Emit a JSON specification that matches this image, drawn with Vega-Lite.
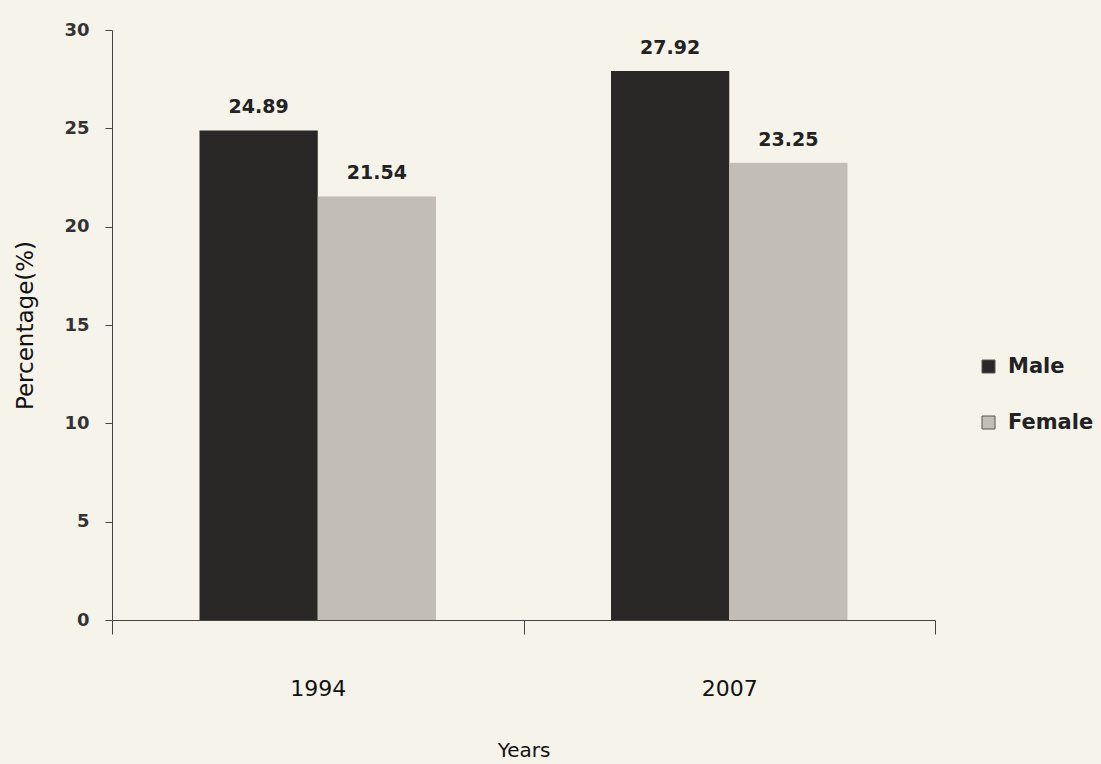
{
  "$schema": "https://vega.github.io/schema/vega-lite/v6.json",
  "autosize": "none",
  "width": 823,
  "height": 590,
  "padding": {"left": 112, "top": 30, "right": 166, "bottom": 144},
  "background": "#f6f3eb",
  "config": {
    "view": {"stroke": null},
    "font": "DejaVu Sans",
    "axis": {"domainColor": "#444", "tickColor": "#444", "grid": false}
  },
  "data": {
    "values": [
      {"year": "1994", "sex": "Male", "pct": 24.89},
      {"year": "1994", "sex": "Female", "pct": 21.54},
      {"year": "2007", "sex": "Male", "pct": 27.92},
      {"year": "2007", "sex": "Female", "pct": 23.25}
    ]
  },
  "encoding": {
    "x": {
      "field": "year", "type": "nominal",
      "scale": {"paddingInner": 0, "paddingOuter": 0},
      "axis": {
        "title": "Years", "titleFontSize": 20, "titleFontWeight": "normal", "titleColor": "#111",
        "titlePadding": 41,
        "labelAngle": 0, "labelFontSize": 22, "labelFontWeight": "normal", "labelColor": "#111",
        "labelPadding": 44, "tickBand": "extent", "tickSize": 14
      }
    },
    "xOffset": {"field": "sex", "type": "nominal", "sort": ["Male", "Female"], "scale": {"paddingInner": 0, "paddingOuter": 0.74}},
    "y": {
      "field": "pct", "type": "quantitative",
      "scale": {"domain": [0, 30]},
      "axis": {
        "title": "Percentage(%)", "titleFontSize": 23, "titleFontWeight": "normal", "titleColor": "#111",
        "titlePadding": 26,
        "values": [0, 5, 10, 15, 20, 25, 30],
        "labelFontSize": 18, "labelFontWeight": "bold", "labelColor": "#333",
        "tickSize": 7, "labelPadding": 16
      }
    }
  },
  "layer": [
    {
      "mark": {"type": "bar"},
      "encoding": {
        "color": {
          "field": "sex", "type": "nominal", "sort": ["Male", "Female"],
          "scale": {"domain": ["Male", "Female"], "range": ["#2a2826", "#c2beb6"]},
          "legend": {
            "title": null, "orient": "none", "legendX": 866, "legendY": 326,
            "symbolType": "square", "symbolSize": 169, "symbolStrokeColor": "#555", "symbolStrokeWidth": 1,
            "labelFontSize": 21, "labelFontWeight": "bold", "labelColor": "#222",
            "rowPadding": 34, "labelOffset": 9
          }
        }
      }
    },
    {
      "mark": {"type": "text", "baseline": "bottom", "dy": -13, "fontSize": 19, "fontWeight": "bold", "color": "#222"},
      "encoding": {"text": {"field": "pct", "type": "quantitative", "format": ".2f"}}
    }
  ]
}
